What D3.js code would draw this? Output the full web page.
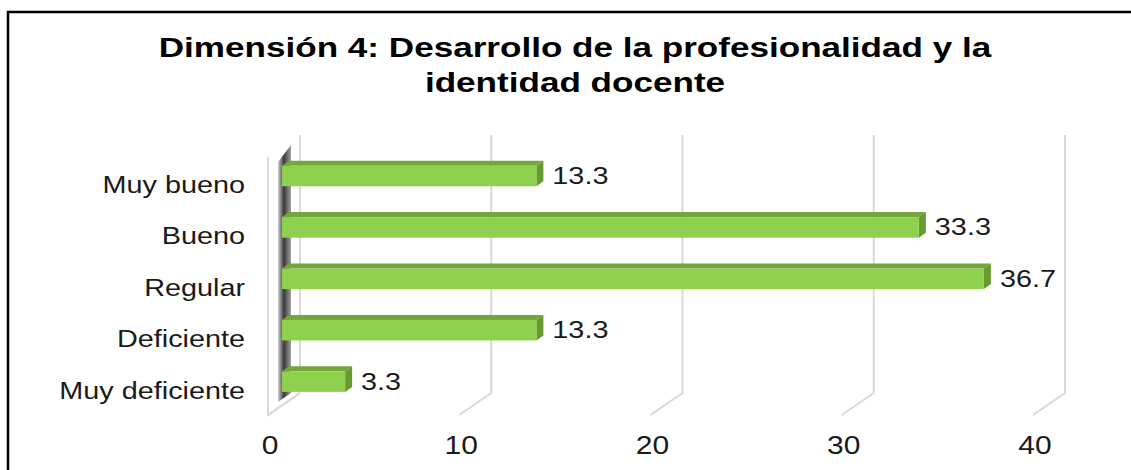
<!DOCTYPE html>
<html>
<head>
<meta charset="utf-8">
<script src="https://cdn.jsdelivr.net/npm/d3@7"></script>
<style>
  body { margin: 0; background: #fff; }
  svg text { font-family: "Liberation Sans", Arial, sans-serif; fill: #1a1a1a; }
</style>
</head>
<body>
<div id="chart"></div>
<script>
// datos del grafico
var categories = ["Muy bueno", "Bueno", "Regular", "Deficiente", "Muy deficiente"];
var values = [13.3, 33.3, 36.7, 13.3, 3.3];
var ticks = [0, 10, 20, 30, 40];
var titleLines = ["Dimensión 4: Desarrollo de la profesionalidad y la", "identidad docente"];

var W = 1131, H = 470,
    SX = 1.2,           // estiramiento horizontal del texto
    SXT = 1.3,          // estiramiento del titulo
    DX = 32, DY = 22,   // profundidad 3d del piso
    BDX = 7, BDY = 5;   // profundidad de las barras

var svg = d3.select("#chart").append("svg").attr("width", W).attr("height", H);

// borde
svg.append("rect").attr("x", 8).attr("y", 12).attr("width", W + 20).attr("height", H + 20)
    .attr("fill", "#fff").attr("stroke", "#000").attr("stroke-width", 2.5);

// titulo
svg.selectAll("text.title").data(titleLines).enter().append("text")
    .attr("class", "title")
    .attr("text-anchor", "middle")
    .attr("transform", function(d, i){ return "translate(" + 575 + "," + (57 + i * 35) + ") scale(" + SXT + ",1)"; })
    .style("font-size", "27px").style("font-weight", "bold").style("fill", "#000")
    .text(function(d){ return d; });

var xBack = d3.scaleLinear().domain([0, 40]).range([300, 1065]);
var xBar = d3.scaleLinear().domain([0, 40]).range([282, 1047]);
var y = d3.scaleBand().domain(categories).range([150.3, 407.3]).paddingInner(0.6).paddingOuter(0.3);
var topY = 135, floorY = 393;

// pared izquierda
var grad = svg.append("defs").append("linearGradient").attr("id", "wall")
    .attr("x1", "0").attr("x2", "1").attr("y1", "0").attr("y2", "0");
grad.append("stop").attr("offset", "0%").attr("stop-color", "#d0d0d0");
grad.append("stop").attr("offset", "45%").attr("stop-color", "#3a3a3a");
grad.append("stop").attr("offset", "100%").attr("stop-color", "#a0a0a0");

svg.append("path")
    .attr("d", "M" + (xBack(0) - DX) + "," + (topY + DY) + "V" + (floorY + DY) + "L" + xBack(0) + "," + floorY)
    .attr("fill", "none").attr("stroke", "#d9d9d9").attr("stroke-width", 2);

svg.append("polygon")
    .attr("points", [[278, 162], [291, 145], [291, floorY], [278, floorY + 9]].join(" "))
    .attr("fill", "url(#wall)");

// lineas de cuadricula
svg.selectAll("path.grid").data(ticks).enter().append("path")
    .attr("class", "grid")
    .attr("d", function(d){
        var x = xBack(d);
        return "M" + x + "," + topY + "V" + floorY + "L" + (x - DX) + "," + (floorY + DY);
    })
    .attr("fill", "none").attr("stroke", "#d9d9d9").attr("stroke-width", 2);

// etiquetas del eje x
svg.selectAll("text.tick").data(ticks).enter().append("text")
    .attr("class", "tick")
    .attr("text-anchor", "middle")
    .attr("transform", function(d){ return "translate(" + (xBack(d) - DX + 2) + ",454) scale(" + SX + ",1)"; })
    .style("font-size", "25px")
    .text(function(d){ return d; });

// barras
var bars = svg.selectAll("g.bar").data(values).enter().append("g").attr("class", "bar");
bars.each(function(v, i){
    var g = d3.select(this),
        x0 = xBar(0), x1 = xBar(v),
        t = y(categories[i]), b = t + y.bandwidth();
    g.append("polygon")
        .attr("points", [[x0, t], [x1, t], [x1 + BDX, t - BDY], [x0 + BDX, t - BDY]].join(" "))
        .attr("fill", "#74a63b");
    g.append("polygon")
        .attr("points", [[x1, t], [x1 + BDX, t - BDY], [x1 + BDX, b - BDY], [x1, b]].join(" "))
        .attr("fill", "#679a30");
    g.append("rect")
        .attr("x", x0).attr("y", t).attr("width", x1 - x0).attr("height", b - t)
        .attr("fill", "#8fd14f");
    g.append("text")
        .attr("transform", "translate(" + (x1 + BDX + 9) + "," + (t + y.bandwidth() / 2 + 8) + ") scale(" + SX + ",1)")
        .style("font-size", "24px")
        .text(v);
});

// etiquetas de categoria
svg.selectAll("text.cat").data(categories).enter().append("text")
    .attr("class", "cat")
    .attr("text-anchor", "end")
    .attr("transform", function(d){ return "translate(245," + (y(d) + y.bandwidth() / 2 + 17) + ") scale(" + SX + ",1)"; })
    .style("font-size", "24px")
    .text(function(d){ return d; });
</script>
</body>
</html>
